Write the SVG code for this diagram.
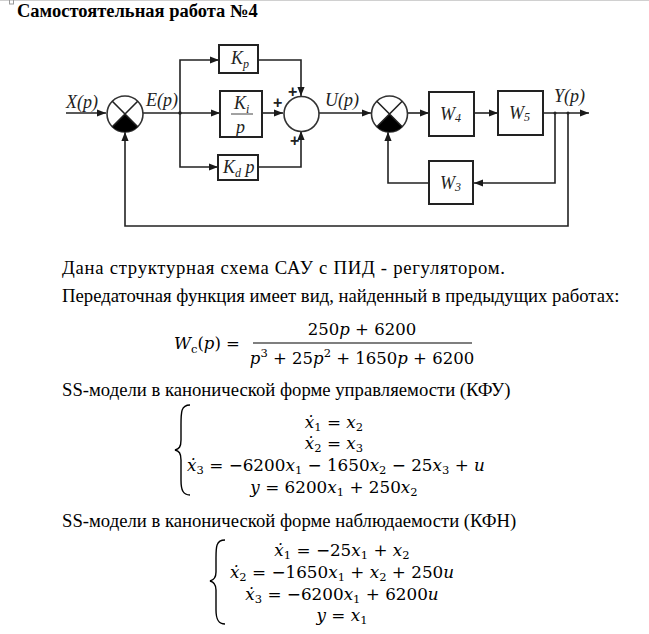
<svg xmlns="http://www.w3.org/2000/svg" width="649" height="634" viewBox="0 0 649 634">
<defs>
<marker id="ah" viewBox="0 0 10 10" refX="10" refY="5" markerWidth="9" markerHeight="9" markerUnits="userSpaceOnUse" orient="auto">
<path d="M0,1 L10,5 L0,9 Z" fill="#1a1a1a"/>
</marker>
</defs>
<style>
.t{font-family:"Liberation Serif","Times New Roman",serif;fill:#000}
.title{font-size:18.5px;font-weight:bold}
.body{font-size:18.7px}
.m{font-family:"DejaVu Serif","Liberation Serif",serif;font-size:16.8px;fill:#000}
.f{font-size:16.5px}
.i{font-style:italic}
.s{font-size:11.5px}
.box{fill:#fff;stroke:#222;stroke-width:2}
.ln{fill:none;stroke:#222;stroke-width:1.6}
.circ{fill:#fff;stroke:#333;stroke-width:1.6}
.lbl{font-family:"Liberation Serif","Times New Roman",serif;font-style:italic;font-size:18px;fill:#222}
.sm{font-size:12px}
.plus{font-family:"Liberation Sans",Arial,sans-serif;font-size:16px;font-weight:bold;fill:#222}
.brace{fill:none;stroke:#000;stroke-width:1.4}
</style>
<rect width="649" height="634" fill="#fff"/>
<line x1="0" y1="0.5" x2="649" y2="0.5" stroke="#d0d0d0" stroke-width="1"/>
<rect x="9.5" y="-1" width="4" height="5" fill="none" stroke="#999" stroke-width="1"/>
<text class="t title" x="17" y="17">Самостоятельная работа №4</text>

<g id="connectors">
<path class="ln" d="M66 113 H106" marker-end="url(#ah)"/>
<path class="ln" d="M143 113 H180"/>
<path class="ln" d="M180 113 V60 H219" marker-end="url(#ah)"/>
<path class="ln" d="M180 113 H220" marker-end="url(#ah)"/>
<path class="ln" d="M180 113 V167 H218" marker-end="url(#ah)"/>
<path class="ln" d="M258 60 H301 V96" marker-end="url(#ah)"/>
<path class="ln" d="M262 113 H283" marker-end="url(#ah)"/>
<path class="ln" d="M258 167 H301 V131" marker-end="url(#ah)"/>
<path class="ln" d="M319 113 H371" marker-end="url(#ah)"/>
<path class="ln" d="M408 113 H429" marker-end="url(#ah)"/>
<path class="ln" d="M474 113 H498" marker-end="url(#ah)"/>
<path class="ln" d="M543 113 H589" marker-end="url(#ah)"/>
<path class="ln" d="M555 113 V183 H474" marker-end="url(#ah)"/>
<path class="ln" d="M429 183 H388 V132" marker-end="url(#ah)"/>
<path class="ln" d="M568 113 V226 H125 V132" marker-end="url(#ah)"/>
<circle cx="180" cy="113" r="1.8" fill="#222"/>
<circle cx="555" cy="113" r="1.5" fill="#222"/>
<circle cx="568" cy="113" r="1.5" fill="#222"/>
</g>

<g id="sum1">
<circle class="circ" cx="125" cy="114" r="18"/>
<path d="M125 114 L137.7 126.7 A18 18 0 0 1 112.3 126.7 Z" fill="#000"/>
<path class="ln" d="M112.3 101.3 L137.7 126.7 M137.7 101.3 L112.3 126.7"/>
</g>
<g id="sum2">
<circle class="circ" cx="301.5" cy="114" r="17.5"/>
</g>
<g id="sum3">
<circle class="circ" cx="389.5" cy="114" r="18"/>
<path d="M389.5 114 L402.2 126.7 A18 18 0 0 1 376.8 126.7 Z" fill="#000"/>
<path class="ln" d="M376.8 101.3 L402.2 126.7 M402.2 101.3 L376.8 126.7"/>
</g>

<g id="kp">
<rect class="box" x="219" y="45" width="39" height="28"/>
<text class="lbl" x="231" y="64">K<tspan class="sm" dy="4">p</tspan></text>
</g>
<g id="ki">
<rect class="box" x="220" y="91" width="42" height="46"/>
<text class="lbl" x="234" y="109">K<tspan class="sm" dy="4">i</tspan></text>
<line x1="231" y1="114" x2="253" y2="114" stroke="#444" stroke-width="1"/>
<text class="lbl" x="236" y="133">p</text>
</g>
<g id="kd">
<rect class="box" x="218" y="155" width="40" height="25"/>
<text class="lbl" x="223" y="173">K<tspan class="sm" dy="4">d</tspan><tspan dy="-4"> p</tspan></text>
</g>
<g id="w4">
<rect class="box" x="429" y="92" width="45" height="44"/>
<text class="lbl" x="440" y="120">W<tspan class="sm" dy="2">4</tspan></text>
</g>
<g id="w5">
<rect class="box" x="498" y="91" width="45" height="44"/>
<text class="lbl" x="509" y="119">W<tspan class="sm" dy="2">5</tspan></text>
</g>
<g id="w3">
<rect class="box" x="429" y="161" width="44" height="43"/>
<text class="lbl" x="440" y="189">W<tspan class="sm" dy="2">3</tspan></text>
</g>

<g id="labels">
<text class="lbl" x="66" y="108">X(p)</text>
<text class="lbl" x="146" y="106">E(p)</text>
<text class="lbl" x="325" y="106">U(p)</text>
<text class="lbl" x="554" y="102">Y(p)</text>
<text class="plus" x="288" y="97">+</text>
<text class="plus" x="273" y="108">+</text>
<text class="plus" x="290" y="146">+</text>
</g>

<text class="t body" x="62" y="274" textLength="443">Дана структурная схема САУ с ПИД - регулятором.</text>
<text class="t body" x="62" y="302">Передаточная функция имеет вид, найденный в предыдущих работах:</text>

<g id="formula">
<text class="m f" x="174" y="349"><tspan class="i">W</tspan><tspan class="s" dy="4">c</tspan><tspan dy="-4">(</tspan><tspan class="i">p</tspan>) =</text>
<text class="m f" x="362" y="335" text-anchor="middle">250<tspan class="i">p</tspan> + 6200</text>
<line x1="253" y1="343" x2="472" y2="343" stroke="#000" stroke-width="1.2"/>
<text class="m f" x="362" y="364" text-anchor="middle"><tspan class="i">p</tspan><tspan class="s" dy="-7">3</tspan><tspan dy="7"> + 25</tspan><tspan class="i">p</tspan><tspan class="s" dy="-7">2</tspan><tspan dy="7"> + 1650</tspan><tspan class="i">p</tspan> + 6200</text>
</g>

<text class="t body" x="62" y="396">SS-модели в канонической форме управляемости (КФУ)</text>

<g id="sys1">
<path class="brace" d="M190 405 C181 405 181 412 181 425 L181 440 C181 447 179 449 175 450 C179 451 181 453 181 460 L181 480 C181 490 183 495 190 495"/>
<text class="m" x="334" y="428" text-anchor="middle"><tspan class="i">ẋ</tspan><tspan class="s" dy="3">1</tspan><tspan dy="-3"> = </tspan><tspan class="i">x</tspan><tspan class="s" dy="3">2</tspan></text>
<text class="m" x="334" y="449" text-anchor="middle"><tspan class="i">ẋ</tspan><tspan class="s" dy="3">2</tspan><tspan dy="-3"> = </tspan><tspan class="i">x</tspan><tspan class="s" dy="3">3</tspan></text>
<text class="m" x="336" y="471" text-anchor="middle"><tspan class="i">ẋ</tspan><tspan class="s" dy="3">3</tspan><tspan dy="-3"> = −6200</tspan><tspan class="i">x</tspan><tspan class="s" dy="3">1</tspan><tspan dy="-3"> − 1650</tspan><tspan class="i">x</tspan><tspan class="s" dy="3">2</tspan><tspan dy="-3"> − 25</tspan><tspan class="i">x</tspan><tspan class="s" dy="3">3</tspan><tspan dy="-3"> + </tspan><tspan class="i">u</tspan></text>
<text class="m" x="334" y="493" text-anchor="middle"><tspan class="i">y</tspan> = 6200<tspan class="i">x</tspan><tspan class="s" dy="3">1</tspan><tspan dy="-3"> + 250</tspan><tspan class="i">x</tspan><tspan class="s" dy="3">2</tspan></text>
</g>

<text class="t body" x="62" y="527">SS-модели в канонической форме наблюдаемости (КФН)</text>

<g id="sys2">
<path class="brace" d="M225 540 C216 540 216 547 216 558 L216 572 C216 578 214 580 210 581 C214 582 216 584 216 590 L216 610 C216 619 218 624 225 624"/>
<text class="m" x="342" y="556" text-anchor="middle"><tspan class="i">ẋ</tspan><tspan class="s" dy="3">1</tspan><tspan dy="-3"> = −25</tspan><tspan class="i">x</tspan><tspan class="s" dy="3">1</tspan><tspan dy="-3"> + </tspan><tspan class="i">x</tspan><tspan class="s" dy="3">2</tspan></text>
<text class="m" x="342" y="578" text-anchor="middle"><tspan class="i">ẋ</tspan><tspan class="s" dy="3">2</tspan><tspan dy="-3"> = −1650</tspan><tspan class="i">x</tspan><tspan class="s" dy="3">1</tspan><tspan dy="-3"> + </tspan><tspan class="i">x</tspan><tspan class="s" dy="3">2</tspan><tspan dy="-3"> + 250</tspan><tspan class="i">u</tspan></text>
<text class="m" x="342" y="600" text-anchor="middle"><tspan class="i">ẋ</tspan><tspan class="s" dy="3">3</tspan><tspan dy="-3"> = −6200</tspan><tspan class="i">x</tspan><tspan class="s" dy="3">1</tspan><tspan dy="-3"> + 6200</tspan><tspan class="i">u</tspan></text>
<text class="m" x="342" y="621" text-anchor="middle"><tspan class="i">y</tspan> = <tspan class="i">x</tspan><tspan class="s" dy="3">1</tspan></text>
</g>
</svg>
